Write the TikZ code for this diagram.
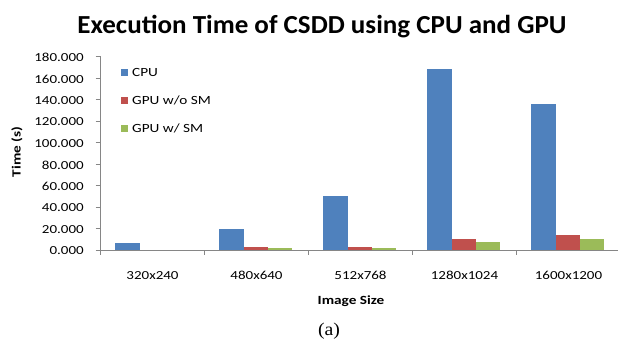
\documentclass[tikz,border=0pt]{standalone}
\usepackage{fontspec}
\newfontfamily\chartfont[FakeStretch=1.22]{Carlito}
\newfontfamily\titlefont[FakeStretch=1.04]{Carlito}
\newfontfamily\capfont[FakeStretch=1.1]{Liberation Serif}
\definecolor{cpucol}{HTML}{4F81BD}
\definecolor{gpucol}{HTML}{C0504D}
\definecolor{smcol}{HTML}{9BBB59}
\definecolor{axiscol}{HTML}{868686}
\tikzset{
  axisline/.style={draw=axiscol, line width=0.9pt},
  ticklabel/.style={font=\chartfont\fontsize{12.3}{14}\selectfont, inner sep=0pt},
  axistitle/.style={font=\chartfont\bfseries\fontsize{12.5}{14}\selectfont, inner sep=0pt},
  legendtext/.style={font=\chartfont\fontsize{12.5}{14}\selectfont, inner sep=0pt, anchor=west},
  cpubar/.style={fill=cpucol},
  gpubar/.style={fill=gpucol},
  smbar/.style={fill=smcol}
}
\begin{document}
\begin{tikzpicture}[x=1pt,y=-1pt]
\useasboundingbox (0,0) rectangle (618,342);
% title
\node[font=\titlefont\bfseries\fontsize{26}{30}\selectfont, anchor=base, inner sep=0pt] (title) at (322,33.7) {Execution Time of CSDD using CPU and GPU};
% bars
\foreach \i/\a/\b/\c in {0/6.2/0/0, 1/19.2/2.8/1.6, 2/50.2/2.5/2.2, 3/168.1/10.2/7.4, 4/135.5/14.0/10.2} {
  \pgfmathsetmacro\L{100.5+104*\i}
  \fill[cpubar] ({\L+14.7},250) rectangle ({\L+39},{250-1.075*\a});
  \fill[gpubar] ({\L+39},250) rectangle ({\L+63.3},{250-1.075*\b});
  \fill[smbar] ({\L+63.3},250) rectangle ({\L+87.6},{250-1.075*\c});
}
% axes
\coordinate (ytop) at (100.5,56.5);
\coordinate (origin) at (100.5,250);
\coordinate (xend) at (618,250);
\draw[axisline] (ytop) -- (origin) -- (xend);
\foreach \v/\t in {0/0.000,20/20.000,40/40.000,60/60.000,80/80.000,100/100.000,120/120.000,140/140.000,160/160.000,180/180.000} {
  \draw[axisline] (95.5,{250-1.075*\v}) -- (100.5,{250-1.075*\v});
  \node[ticklabel, anchor=east] (yl\v) at (84,{250-1.075*\v+1}) {\t};
}
\foreach \i in {0,...,5} {
  \draw[axisline] ({100.5+104*\i},250) -- ({100.5+104*\i},255);
}
\foreach \i/\t in {0/320x240,1/480x640,2/512x768,3/1280x1024,4/1600x1200} {
  \node[ticklabel] (xl\i) at ({152.5+104*\i},275.5) {\t};
}
% axis titles
\node[axistitle] (xtitle) at (351,301.5) {Image Size};
\node[axistitle, rotate=90] (ytitle) at (17,152) {Time (s)};
% legend
\fill[cpubar] (120.5,69) rectangle (127.5,76);
\node[legendtext] (lcpu) at (132,72.5) {CPU};
\fill[gpubar] (120.5,97) rectangle (127.5,104);
\node[legendtext] (lgpu) at (132,100.5) {GPU w/o SM};
\fill[smbar] (120.5,125) rectangle (127.5,132);
\node[legendtext] (lsm) at (132,128.5) {GPU w/ SM};
% caption
\node[font=\capfont\fontsize{18}{20}\selectfont, inner sep=0pt] (cap) at (329,331) {(a)};
\end{tikzpicture}
\end{document}
